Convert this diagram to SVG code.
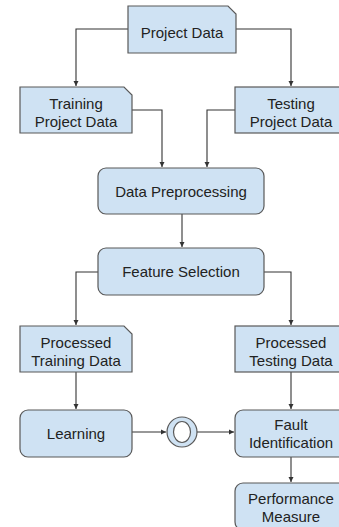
<svg xmlns="http://www.w3.org/2000/svg" width="339" height="527" viewBox="0 0 339 527">
<defs>
<style>
.box{fill:#cfe2f3;stroke:#595959;stroke-width:1.2}
.t{font-family:"Liberation Sans",Arial,sans-serif;font-size:15px;fill:#222;text-anchor:middle}
.c{fill:none;stroke:#333;stroke-width:1.1}
</style>
<marker id="ah" markerWidth="6" markerHeight="6" refX="5" refY="3" orient="auto" markerUnits="userSpaceOnUse">
<path d="M0,0.5 L5,3 L0,5.5 Z" fill="#333"/>
</marker>
</defs>
<rect width="339" height="527" fill="#fff"/>
<g id="connectors">
<path class="c" d="M128,29 H76 V86" marker-end="url(#ah)"/>
<path class="c" d="M236,29 H291 V86" marker-end="url(#ah)"/>
<path class="c" d="M132,110 H162 V167" marker-end="url(#ah)"/>
<path class="c" d="M235,110 H207 V167" marker-end="url(#ah)"/>
<path class="c" d="M182,214 V247" marker-end="url(#ah)"/>
<path class="c" d="M98,272 H76 V325" marker-end="url(#ah)"/>
<path class="c" d="M264,272 H291 V325" marker-end="url(#ah)"/>
<path class="c" d="M76,372 V409" marker-end="url(#ah)"/>
<path class="c" d="M291,372 V409" marker-end="url(#ah)"/>
<path class="c" d="M132,432 H166" marker-end="url(#ah)"/>
<path class="c" d="M197,432 H234" marker-end="url(#ah)"/>
<path class="c" d="M291,457 V482" marker-end="url(#ah)"/>
</g>
<g id="project-data">
<path class="box" d="M128,6 H228 L236,14 V53 H128 Z"/>
<text class="t" x="182" y="38">Project Data</text>
</g>
<g id="training-project-data">
<path class="box" d="M20,87 H124 L132,95 V133 H20 Z"/>
<text class="t" x="76" y="109">Training</text>
<text class="t" x="76" y="127">Project Data</text>
</g>
<g id="testing-project-data">
<rect class="box" x="235" y="87" width="112" height="46"/>
<text class="t" x="291" y="109">Testing</text>
<text class="t" x="291" y="127">Project Data</text>
</g>
<g id="data-preprocessing">
<rect class="box" x="98" y="168" width="166" height="46" rx="8"/>
<text class="t" x="181" y="197">Data Preprocessing</text>
</g>
<g id="feature-selection">
<rect class="box" x="98" y="248" width="166" height="47" rx="8"/>
<text class="t" x="181" y="277">Feature Selection</text>
</g>
<g id="processed-training-data">
<path class="box" d="M20,326 H124 L132,334 V372 H20 Z"/>
<text class="t" x="76" y="348">Processed</text>
<text class="t" x="76" y="366">Training Data</text>
</g>
<g id="processed-testing-data">
<rect class="box" x="235" y="326" width="112" height="46"/>
<text class="t" x="291" y="348">Processed</text>
<text class="t" x="291" y="366">Testing Data</text>
</g>
<g id="learning">
<rect class="box" x="20" y="410" width="112" height="47" rx="8"/>
<text class="t" x="76" y="439">Learning</text>
</g>
<g id="event">
<circle class="box" cx="182" cy="432" r="15"/>
<ellipse cx="182" cy="432" rx="8.5" ry="10.5" fill="#fff" stroke="#595959" stroke-width="1.2"/>
</g>
<g id="fault-identification">
<rect class="box" x="235" y="410" width="112" height="47" rx="8"/>
<text class="t" x="291" y="430">Fault</text>
<text class="t" x="291" y="448">Identification</text>
</g>
<g id="performance-measure">
<rect class="box" x="235" y="483" width="112" height="47" rx="8"/>
<text class="t" x="291" y="504">Performance</text>
<text class="t" x="291" y="522">Measure</text>
</g>
</svg>
